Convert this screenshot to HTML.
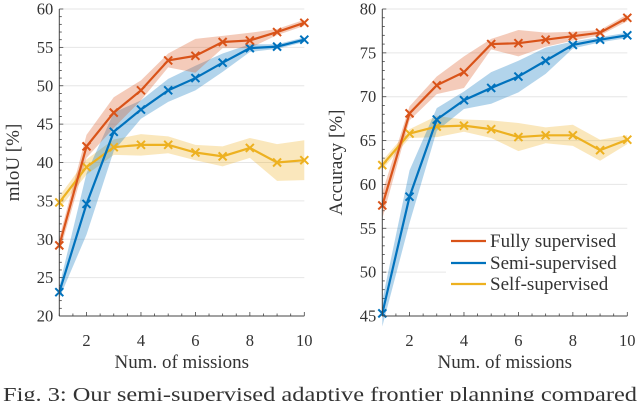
<!DOCTYPE html>
<html><head><meta charset="utf-8"><style>
body{margin:0;background:#fff;width:640px;height:401px;overflow:hidden}
svg text{font-family:"Liberation Serif",serif;fill:#333}
</style></head><body>
<svg id="s" width="640" height="401"></svg>
<script>
const missions=[1,2,3,4,5,6,7,8,9,10];
const xTicks=[2,4,6,8,10];
const miouFully=[29.2,42.1,46.5,49.4,53.3,53.9,55.7,55.9,57.0,58.2];
const miouFullySd=[1.0,1.5,2.0,1.3,0.9,2.2,0.8,1.0,0.4,0.4];
const miouSemi=[23.1,34.6,44.0,46.9,49.4,51.0,53.0,54.9,55.1,56.0];
const miouSemiSd=[0.8,4.0,2.5,1.2,1.5,1.6,1.2,0.5,0.3,0.3];
const miouSelf=[34.8,39.4,42.0,42.3,42.3,41.3,40.8,41.9,40.0,40.3];
const miouSelfSd=[0.8,1.0,1.0,1.4,1.1,1.0,1.3,1.3,2.4,2.6];
const miouTicks=[20,25,30,35,40,45,50,55,60];
const accFully=[57.6,68.1,71.3,72.8,76.0,76.1,76.5,76.9,77.3,79.0];
const accFullySd=[1.5,0.8,1.0,1.8,0.6,1.5,0.8,0.5,0.3,0.4];
const accSemi=[45.3,58.6,67.4,69.6,71.0,72.3,74.1,75.9,76.5,77.0];
const accSemiSd=[1.5,3.0,1.3,1.0,1.8,1.8,1.5,0.4,0.3,0.3];
const accSelf=[62.2,65.8,66.6,66.7,66.3,65.4,65.6,65.6,63.9,65.1];
const accSelfSd=[0.5,0.5,1.2,0.7,1.0,1.6,0.9,1.2,1.2,0.5];
const accTicks=[45,50,55,60,65,70,75,80];
const NS="http://www.w3.org/2000/svg";
const svg=document.getElementById('s');
function el(t,a,p){const e=document.createElementNS(NS,t);for(const k in a)e.setAttribute(k,a[k]);(p||svg).appendChild(e);return e;}
const C={f:'#D95319',m:'#0072BD',s:'#EDB120'};
function panel(name,x0,x1,y0,y1,vmin,vmax,ticks,series,ylabel,ylx){
  const g=el('g',{});
  
  
  const X=v=>x0+(v-1)/9*(x1-x0);
  const Y=v=>y1-(v-vmin)/(vmax-vmin)*(y1-y0);
  ticks.forEach(t=>{
    if(t!==vmin){const l=el('line',{x1:x0,x2:x1,y1:Y(t),y2:Y(t),stroke:'#e6e6e6','stroke-width':1},g);
    }
    const tx=el('text',{x:x0-6,y:Y(t)+5.5,'text-anchor':'end','font-size':'16.5'},g);tx.textContent=t;
    
  });
  for(let v=vmin;v<=vmax;v+=1){el('line',{x1:x0,x2:x0+(v%5===0?4:2.5),y1:Y(v),y2:Y(v),stroke:'#444','stroke-width':0.8},g);}
  for(let v=1;v<=10;v+=0.5){el('line',{x1:X(v),x2:X(v),y1:y1,y2:y1-(Number.isInteger(v)&&v%2===0?4:2.5),stroke:'#444','stroke-width':0.8},g);}
  xTicks.forEach(t=>{const tx=el('text',{x:X(t),y:y1+30,'text-anchor':'middle','font-size':'16.5'},g);tx.textContent=t;
    });
  series.forEach(([vals,sd,col,nm])=>{
    let top=missions.map((m,i)=>X(m)+','+Y(vals[i]+sd[i]));
    let bot=missions.map((m,i)=>X(m)+','+Y(vals[i]-sd[i])).reverse();
    const b=el('polygon',{points:top.concat(bot).join(' '),fill:col,'fill-opacity':0.3},g);
    
  });
  series.forEach(([vals,sd,col,nm])=>{
    const p=el('polyline',{points:missions.map((m,i)=>X(m)+','+Y(vals[i])).join(' '),fill:'none',stroke:col,'stroke-width':2.2},g);
    
    missions.forEach((m,i)=>{const cx=X(m),cy=Y(vals[i]);
      const mk=el('path',{d:`M${cx-4},${cy-4}L${cx+4},${cy+4}M${cx-4},${cy+4}L${cx+4},${cy-4}`,stroke:col,'stroke-width':2},g);
      });
  });
  el('line',{x1:x0,x2:x0,y1:y0,y2:y1,stroke:'#444','stroke-width':1},g);
  el('line',{x1:x0,x2:x1,y1:y1,y2:y1,stroke:'#444','stroke-width':1},g);
  const xl=el('text',{x:(x0+x1)/2,y:y1+52,'text-anchor':'middle','font-size':'19'},g);xl.textContent='Num. of missions';
  
  const yl=el('text',{x:0,y:0,'text-anchor':'middle','font-size':'19',transform:`translate(${ylx},${(y0+y1)/2}) rotate(-90)`},g);yl.textContent=ylabel;
  
}
panel('miou-chart',59.3,304.3,9,316,20,60,miouTicks,
 [[miouSelf,miouSelfSd,C.s,'self-supervised'],[miouSemi,miouSemiSd,C.m,'semi-supervised'],[miouFully,miouFullySd,C.f,'fully-supervised']],'mIoU [%]',19);
panel('accuracy-chart',382.3,627.3,9,316,45,80,accTicks,
 [[accSelf,accSelfSd,C.s,'self-supervised'],[accSemi,accSemiSd,C.m,'semi-supervised'],[accFully,accFullySd,C.f,'fully-supervised']],'Accuracy [%]',342);
const lg=el('g',{});


el('rect',{x:446,y:229,width:182,height:70,fill:'#fff'},lg);
[['Fully supervised',C.f,241],['Semi-supervised',C.m,263],['Self-supervised',C.s,284]].forEach(([t,c,y])=>{
  const e=el('g',{},lg);
  
  
  el('line',{x1:451,x2:486,y1:y,y2:y,stroke:c,'stroke-width':2.2},e);
  const tx=el('text',{x:490,y:y+6,'font-size':'19'},e);tx.textContent=t;
});
const cap=el('text',{x:3,y:401,'font-size':'20',textLength:634,lengthAdjust:'spacingAndGlyphs'});
cap.textContent='Fig. 3: Our semi-supervised adaptive frontier planning compared';


</script>
</body></html>
